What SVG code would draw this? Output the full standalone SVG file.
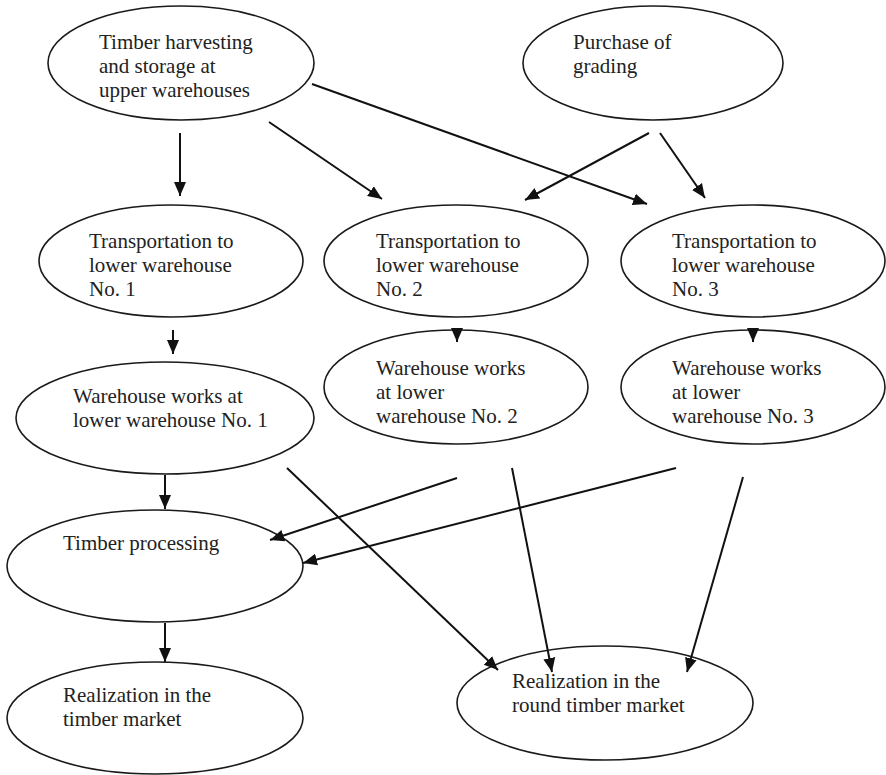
<svg xmlns="http://www.w3.org/2000/svg" width="886" height="775" viewBox="0 0 886 775">
<style>
.n ellipse{fill:#fff;stroke:#1a1a1a;stroke-width:1.6}
.n text{font-family:"Liberation Serif","Times New Roman",serif;font-size:21px;fill:#222}
.c line{stroke:#111;stroke-width:2;marker-end:url(#ah)}
</style>
<defs>
<marker id="ah" markerUnits="userSpaceOnUse" markerWidth="16" markerHeight="14" refX="14" refY="6" orient="auto" viewBox="0 0 16 12">
<path d="M0,0 L14,6 L0,12 z" fill="#111"/>
</marker>
</defs>
<rect width="886" height="775" fill="#fff"/>
<g id="n1" class="n"><ellipse cx="181" cy="63" rx="133" ry="57"/><text x="99" y="49">Timber harvesting</text><text x="99" y="73">and storage at</text><text x="99" y="97">upper warehouses</text></g>
<g id="n2" class="n"><ellipse cx="653" cy="63" rx="130" ry="57"/><text x="573" y="49">Purchase of</text><text x="573" y="73">grading</text></g>
<g id="t1" class="n"><ellipse cx="171" cy="261" rx="132" ry="56"/><text x="89" y="248">Transportation to</text><text x="89" y="272">lower warehouse</text><text x="89" y="296">No. 1</text></g>
<g id="t2" class="n"><ellipse cx="456" cy="261" rx="132" ry="56"/><text x="376" y="248">Transportation to</text><text x="376" y="272">lower warehouse</text><text x="376" y="296">No. 2</text></g>
<g id="t3" class="n"><ellipse cx="753" cy="261" rx="132" ry="56"/><text x="672" y="248">Transportation to</text><text x="672" y="272">lower warehouse</text><text x="672" y="296">No. 3</text></g>
<g id="w1" class="n"><ellipse cx="165" cy="418" rx="149" ry="56"/><text x="73" y="403">Warehouse works at</text><text x="73" y="427">lower warehouse No. 1</text></g>
<g id="w2" class="n"><ellipse cx="456" cy="387" rx="132" ry="57"/><text x="376" y="375">Warehouse works</text><text x="376" y="399">at lower</text><text x="376" y="423">warehouse No. 2</text></g>
<g id="w3" class="n"><ellipse cx="753" cy="387" rx="132" ry="57"/><text x="672" y="375">Warehouse works</text><text x="672" y="399">at lower</text><text x="672" y="423">warehouse No. 3</text></g>
<g id="tp" class="n"><ellipse cx="155" cy="566" rx="148" ry="56"/><text x="63" y="550">Timber processing</text></g>
<g id="rm" class="n"><ellipse cx="155" cy="718" rx="148" ry="56"/><text x="63" y="702">Realization in the</text><text x="63" y="726">timber market</text></g>
<g id="rr" class="n"><ellipse cx="605" cy="703" rx="148" ry="57"/><text x="512" y="688">Realization in the</text><text x="512" y="712">round timber market</text></g>
<g id="connectors" class="c">
<line x1="180" y1="133" x2="180" y2="196"/>
<line x1="269" y1="122" x2="382" y2="199"/>
<line x1="312" y1="84" x2="647" y2="204"/>
<line x1="649" y1="133" x2="525" y2="200"/>
<line x1="660" y1="133" x2="705" y2="198"/>
<line x1="173" y1="330" x2="173" y2="354"/>
<line x1="457" y1="330" x2="457" y2="342"/>
<line x1="753" y1="330" x2="753" y2="342"/>
<line x1="165" y1="475" x2="165" y2="509"/>
<line x1="165" y1="623" x2="165" y2="662"/>
<line x1="287" y1="468" x2="498" y2="670"/>
<line x1="512" y1="468" x2="552" y2="672"/>
<line x1="743" y1="477" x2="687" y2="672"/>
<line x1="457" y1="478" x2="270" y2="540"/>
<line x1="676" y1="468" x2="303" y2="563"/>
</g>
</svg>
